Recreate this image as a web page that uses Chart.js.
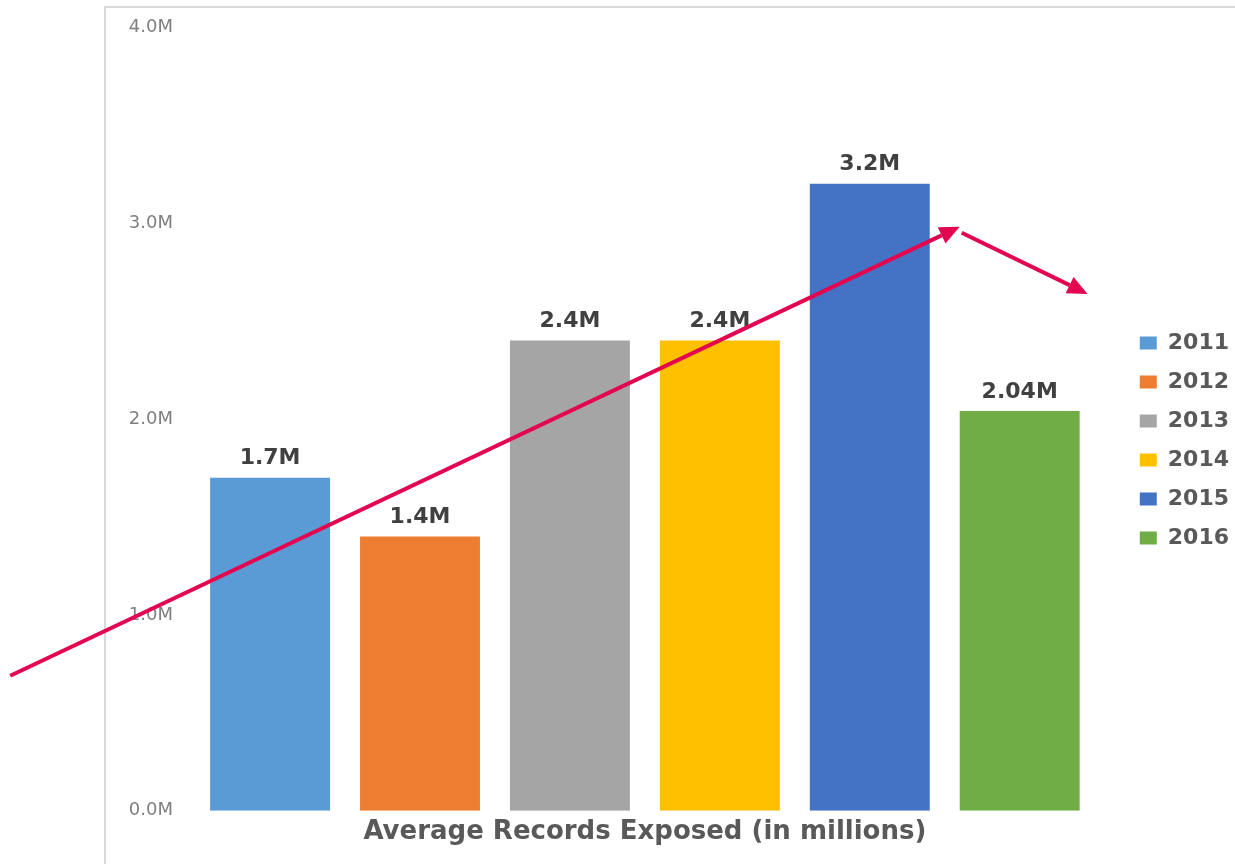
<!DOCTYPE html>
<html>
<head>
<meta charset="utf-8">
<title>Average Records Exposed</title>
<script src="https://cdn.jsdelivr.net/npm/chart.js@4.4.1/dist/chart.umd.min.js"></script>
<style>
  html, body { margin: 0; padding: 0; background: #fff; }
  #wrap { position: relative; width: 1235px; height: 864px; overflow: hidden; }
  #frame { position: absolute; left: 104px; top: 6px; width: 1300px; height: 900px;
           border-left: 2px solid #d9d9d9; border-top: 2px solid #d9d9d9; }
  #chart { position: absolute; left: 0; top: 0; }
</style>
</head>
<body>
<div id="wrap">
  <div id="frame"></div>
  <canvas id="chart" width="1235" height="864"></canvas>
</div>
<script>
  // ---------- Data ----------
  const categories = ['Average Records Exposed (in millions)'];
  const years = ['2011', '2012', '2013', '2014', '2015', '2016'];
  const records = [1.7, 1.4, 2.4, 2.4, 3.2, 2.04];   // millions
  const barColors = ['#5B9BD5', '#ED7D31', '#A5A5A5', '#FFC000', '#4472C4', '#70AD47'];
  const yTickValues = [0, 1, 2, 3, 4];

  // hand-drawn arrows, in (bar slot, value in millions)
  const trendArrow = [[-1.733, 0.689], [4.6, 2.98]];
  const dropArrow = [[4.613, 2.95], [5.453, 2.638]];

  const arrowColor = '#E3064E';

  // ---------- Helpers ----------
  function slotToPixel(chart, slot) {
    const b0 = chart.getDatasetMeta(0).data[0];
    const b1 = chart.getDatasetMeta(1).data[0];
    return b0.x + slot * (b1.x - b0.x);
  }

  function drawArrow(ctx, x1, y1, x2, y2) {
    const ang = Math.atan2(y2 - y1, x2 - x1);
    const head = 20, half = 9;
    const bx = x2 - head * Math.cos(ang), by = y2 - head * Math.sin(ang);
    ctx.beginPath();
    ctx.moveTo(x1, y1);
    ctx.lineTo(bx, by);
    ctx.stroke();
    ctx.beginPath();
    ctx.moveTo(x2, y2);
    ctx.lineTo(bx + half * Math.sin(ang), by - half * Math.cos(ang));
    ctx.lineTo(bx - half * Math.sin(ang), by + half * Math.cos(ang));
    ctx.closePath();
    ctx.fill();
  }

  // value labels above bars + the red arrows
  const overlayPlugin = {
    id: 'overlay',
    afterDatasetsDraw(chart) {
      const ctx = chart.ctx;
      ctx.save();
      ctx.font = 'bold 22px "DejaVu Sans"';
      ctx.fillStyle = '#404040';
      ctx.textAlign = 'center';
      ctx.textBaseline = 'middle';
      records.forEach((v, i) => {
        const bar = chart.getDatasetMeta(i).data[0];
        ctx.fillText(v + 'M', bar.x, bar.y - 19);
      });

      const yScale = chart.scales.y;
      ctx.strokeStyle = arrowColor;
      ctx.fillStyle = arrowColor;
      ctx.lineWidth = 4;
      ctx.lineCap = 'butt';
      [trendArrow, dropArrow].forEach(a => {
        drawArrow(ctx,
          slotToPixel(chart, a[0][0]), yScale.getPixelForValue(a[0][1]),
          slotToPixel(chart, a[1][0]), yScale.getPixelForValue(a[1][1]));
      });
      ctx.restore();
    }
  };

  // ---------- Chart ----------
  const datasets = years.map((yr, i) => ({
    label: yr,
    data: [records[i]],
    backgroundColor: barColors[i],
    borderWidth: 0,
    barPercentage: 0.8,
    categoryPercentage: 0.978
  }));

  new Chart(document.getElementById('chart').getContext('2d'), {
    type: 'bar',
    data: { labels: categories, datasets },
    options: {
      responsive: false,
      animation: false,
      devicePixelRatio: 1,
      layout: { padding: { top: 27, left: 0, right: -4, bottom: 10 } },
      plugins: {
        legend: {
          position: 'right',
          labels: {
            boxWidth: 17,
            boxHeight: 13,
            padding: 17,
            color: '#595959',
            font: { family: 'DejaVu Sans', size: 22, weight: 'bold' }
          }
        },
        tooltip: { enabled: false }
      },
      scales: {
        x: {
          grid: { display: false, drawTicks: false },
          border: { display: false },
          ticks: {
            padding: 6,
            color: '#595959',
            font: { family: 'DejaVu Sans', size: 26, weight: 'bold' }
          }
        },
        y: {
          min: 0,
          max: 4,
          afterBuildTicks: s => { s.ticks = yTickValues.map(v => ({ value: v })); },
          afterFit: s => { s.width = 185; },
          grid: { display: false, drawTicks: false },
          border: { display: false },
          ticks: {
            padding: 12,
            color: '#7f7f7f',
            font: { family: 'DejaVu Sans', size: 18 },
            callback: v => v.toFixed(1) + 'M'
          }
        },
        // empty spacer between plot and legend
        gap: {
          position: 'right',
          grid: { display: false, drawTicks: false },
          border: { display: false },
          ticks: { display: false },
          afterFit: s => { s.width = 18; }
        }
      }
    },
    plugins: [overlayPlugin]
  });
</script>
</body>
</html>
